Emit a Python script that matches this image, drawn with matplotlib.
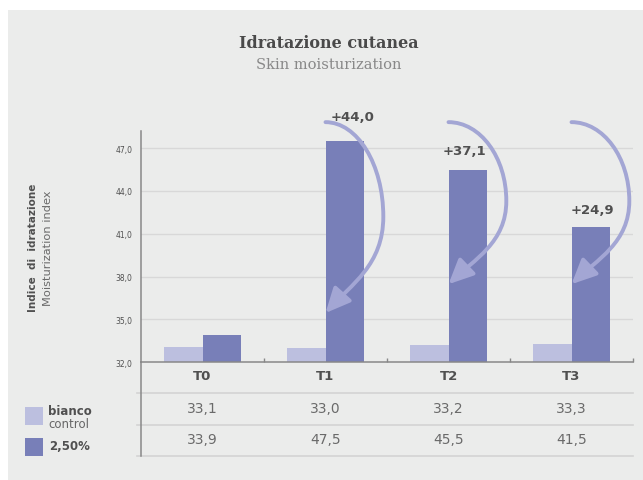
import matplotlib.pyplot as plt
import numpy as np
from matplotlib.patches import Rectangle, FancyArrowPatch
from matplotlib.path import Path

# data
categories = ['T0', 'T1', 'T2', 'T3']
bianco = [33.1, 33.0, 33.2, 33.3]
conc = [33.9, 47.5, 45.5, 41.5]
bianco_txt = ['33,1', '33,0', '33,2', '33,3']
conc_txt = ['33,9', '47,5', '45,5', '41,5']
yticks = [32, 35, 38, 41, 44, 47]
ytick_txt = ['32,0', '35,0', '38,0', '41,0', '44,0', '47,0']
gain_txt = ['+44,0', '+37,1', '+24,9']
gain_x = [1.22, 2.13, 3.17]
gain_y = [49.2, 46.8, 42.7]

c_light = '#bcbfdf'
c_dark = '#787fb8'
c_arrow = '#a3a6d4'
c_bg = '#ebeceb'
c_text = '#505050'

fig = plt.figure(figsize=(6.43, 4.81), dpi=100)
fig.patch.set_facecolor('white')
fig.patches.append(Rectangle((8/643, 0), 1, 1 - 11/481, transform=fig.transFigure,
                             facecolor=c_bg, edgecolor='none', zorder=-10))

ax = fig.add_axes([141/643, 1 - 363.3/481, 492/643, 231.3/481])
ax.set_facecolor('none')

x = np.arange(len(categories))
w = 0.31
ax.bar(x - w/2, bianco, w, color=c_light, zorder=2)
ax.bar(x + w/2, conc, w, color=c_dark, zorder=2)

ax.set_xlim(-0.5, 3.5)
ax.set_ylim(32, 48.2)
ax.set_yticks(yticks)
ax.set_yticklabels(ytick_txt, fontsize=5.5, color=c_text)
ax.tick_params(axis='y', length=0, pad=6)
ax.set_xticks([0.5, 1.5, 2.5, 3.5])
ax.set_xticklabels([])
ax.tick_params(axis='x', direction='in', length=3, color='#888888', width=1)
for yv in yticks[1:]:
    ax.axhline(yv, color='#d8d8d8', lw=1, zorder=1)
for s in ['top', 'right']:
    ax.spines[s].set_visible(False)
for s in ['left', 'bottom']:
    ax.spines[s].set_color('#888888')
    ax.spines[s].set_linewidth(1.1)

# table under the axis
tx = ax.get_xaxis_transform()
for i, cat in enumerate(categories):
    ax.text(i, -0.058, cat, transform=tx, ha='center', va='center',
            fontsize=9.5, fontweight='bold', color=c_text)
    ax.text(i, -0.1976, bianco_txt[i], transform=tx, ha='center', va='center',
            fontsize=10, color='#6a6a6a')
    ax.text(i, -0.3316, conc_txt[i], transform=tx, ha='center', va='center',
            fontsize=10, color='#6a6a6a')
for yl in [-0.1327, -0.271, -0.405]:
    ax.plot([-0.008, 1.0], [yl, yl], transform=ax.transAxes, color='#d3d3d3',
            lw=1.2, clip_on=False)
ax.plot([0, 0], [0, -0.405], transform=ax.transAxes, color='#888888', lw=1.1,
        clip_on=False)

# curved arrows
k = 0.5523
arrows = [(1, 0.47, 48.82, 42.2, 35.45), (2, 0.47, 48.82, 43.3, 37.47),
          (3, 0.47, 48.82, 43.3, 37.47)]
for x0, a, ytop, ymid, ytip in arrows:
    verts = [(x0, ytop), (x0 + k*a, ytop), (x0 + a, ymid + k*(ytop - ymid)), (x0 + a, ymid),
             (x0 + a, ymid - 0.5*(ymid - ytip)), (x0 + 0.45*a, ytip + 0.3*(ymid - ytip)),
             (x0, ytip)]
    codes = [Path.MOVETO] + [Path.CURVE4]*6
    arr = FancyArrowPatch(path=Path(verts, codes), arrowstyle='-|>,head_length=1.5,head_width=0.7',
                          mutation_scale=10, color=c_arrow, lw=2.8, zorder=4, clip_on=False)
    ax.add_patch(arr)

for i, t in enumerate(gain_txt):
    ax.text(gain_x[i], gain_y[i], t, ha='center', va='center', fontsize=9.5,
            fontweight='bold', color=c_text, zorder=5, clip_on=False)

# titles
fig.text(329/643, 1 - 43.5/481, 'Idratazione cutanea', ha='center', va='center',
         family='DejaVu Serif', fontsize=11.5, fontweight='bold', color='#4a4a4a')
fig.text(329/643, 1 - 65/481, 'Skin moisturization', ha='center', va='center',
         family='DejaVu Serif', fontsize=10.5, color='#888888')

# y label
fig.text(33/643, 1 - 248/481, 'Indice  di  idratazione', rotation=90, ha='center',
         va='center', fontsize=7.5, fontweight='bold', color=c_text)
fig.text(48/643, 1 - 248/481, 'Moisturization index', rotation=90, ha='center',
         va='center', fontsize=8.2, color='#6a6a6a')

# legend
fig.patches.append(Rectangle((25/643, 1 - 426/481), 18/643, 18/481,
                             transform=fig.transFigure, facecolor=c_light, edgecolor='none'))
fig.patches.append(Rectangle((25/643, 1 - 457/481), 18/643, 18/481,
                             transform=fig.transFigure, facecolor=c_dark, edgecolor='none'))
fig.text(48/643, 1 - 411.5/481, 'bianco', ha='left', va='center', fontsize=8.5,
         fontweight='bold', color=c_text)
fig.text(48/643, 1 - 424/481, 'control', ha='left', va='center', fontsize=8.5,
         color='#666666')
fig.text(49/643, 1 - 447/481, '2,50%', ha='left', va='center', fontsize=8.5,
         fontweight='bold', color=c_text)

fig.savefig('out.png', dpi=100, facecolor=fig.get_facecolor())
